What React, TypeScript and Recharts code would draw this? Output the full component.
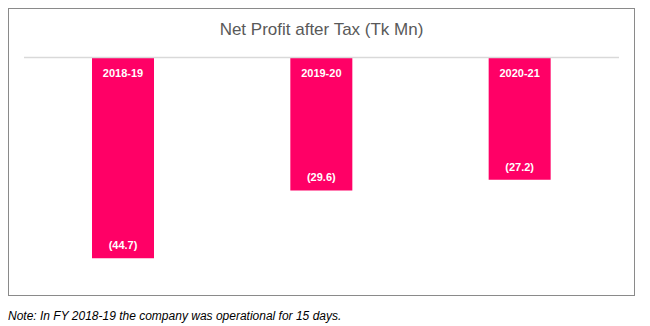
import React from "react";
import { BarChart, Bar, XAxis, YAxis, ReferenceLine, LabelList } from "recharts";

const categories = ["2018-19", "2019-20", "2020-21"];
const profitValues = [-44.7, -29.6, -27.2];

const data = categories.map((c, i) => ({ category: c, value: profitValues[i] }));

const fmt = (v: number) => `(${Math.abs(v).toFixed(1)})`;

const CategoryLabel = (props: any) => {
  const { x, y, width, height, value } = props;
  const top = Math.min(y, y + height);
  return (
    <text x={x + width / 2} y={top + 15} textAnchor="middle" dominantBaseline="central"
      fill="#fff" fontFamily="Liberation Sans, Arial, sans-serif" fontWeight="bold" fontSize={11}>
      {value}
    </text>
  );
};

const ValueLabel = (props: any) => {
  const { x, y, width, height, value } = props;
  const bottom = Math.max(y, y + height);
  return (
    <text x={x + width / 2} y={bottom - 13} textAnchor="middle" dominantBaseline="central"
      fill="#fff" fontFamily="Liberation Sans, Arial, sans-serif" fontWeight="bold" fontSize={11}>
      {fmt(value)}
    </text>
  );
};

export default function App() {
  return (
    <div style={{ width: 634 }}>
      <div style={{ position: "relative", width: 627, height: 288, border: "1px solid #8a8a8a", boxSizing: "border-box", background: "#fff" }}>
        <div style={{ position: "absolute", left: 0, right: 0, top: 11, textAlign: "center", fontFamily: "Liberation Sans, Arial, sans-serif", fontSize: 17, color: "#595959" }}>
          Net Profit after Tax (Tk Mn)
        </div>
        <BarChart width={625} height={286} data={data} margin={{ top: 48.5, right: 15, bottom: 13, left: 15 }}>
          <XAxis dataKey="category" hide />
          <YAxis domain={[-50, 0]} hide />
          <ReferenceLine y={0} stroke="#d9d9d9" strokeWidth={1.5} />
          <Bar dataKey="value" fill="#FF0066" barSize={62} isAnimationActive={false}>
            <LabelList dataKey="category" content={<CategoryLabel />} />
            <LabelList dataKey="value" content={<ValueLabel />} />
          </Bar>
        </BarChart>
      </div>
      <div style={{ marginTop: 13, fontFamily: "Liberation Sans, Arial, sans-serif", fontStyle: "italic", fontSize: 12, color: "#000" }}>
        Note: In FY 2018-19 the company was operational for 15 days.
      </div>
    </div>
  );
}
